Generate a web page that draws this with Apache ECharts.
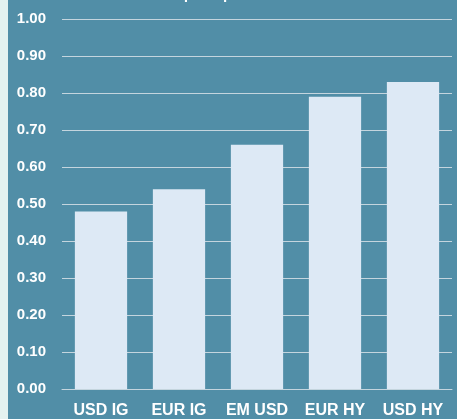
<!DOCTYPE html>
<html>
<head>
<meta charset="utf-8">
<script src="https://cdn.jsdelivr.net/npm/echarts@6/dist/echarts.min.js"></script>
<style>
  html, body { margin: 0; padding: 0; background: #e4f2f0; }
  #chart { position: absolute; left: 8px; top: 0; width: 449px; height: 419px; }
</style>
</head>
<body>
<div id="chart"></div>
<script>
// data
const categories = ['USD IG', 'EUR IG', 'EM USD', 'EUR HY', 'USD HY']
const values = [0.48, 0.54, 0.66, 0.79, 0.83]
const chartTitle = 'Απόδοση ανά μονάδα κινδύνου'

const chart = echarts.init(document.getElementById('chart'))
chart.setOption({
  backgroundColor: '#518ea7',
  animation: false,
  title: {
    text: chartTitle,
    left: 'center',
    top: -18,
    textStyle: { color: '#fff', fontSize: 15, fontWeight: 'bold', fontFamily: 'Liberation Sans' }
  },
  grid: { left: 54, right: 5, top: 19, bottom: 30 },
  xAxis: {
    type: 'category',
    data: categories,
    axisLine: { lineStyle: { color: '#c4d5de' } },
    axisTick: { show: false },
    axisLabel: {
      color: '#fff', fontSize: 16, fontWeight: 'bold', fontFamily: 'Liberation Sans',
      margin: 14, interval: 0, hideOverlap: false
    }
  },
  yAxis: {
    type: 'value',
    min: 0,
    max: 1,
    interval: 0.1,
    axisLabel: {
      color: '#fff', fontSize: 15, fontWeight: 'bold', fontFamily: 'Liberation Sans', margin: 16,
      formatter: v => v.toFixed(2)
    },
    splitLine: { lineStyle: { color: '#c4d5de', width: 1 } }
  },
  series: [{
    type: 'bar',
    data: values,
    barWidth: '67%',
    itemStyle: { color: '#dde9f5' }
  }]
})
</script>
</body>
</html>
